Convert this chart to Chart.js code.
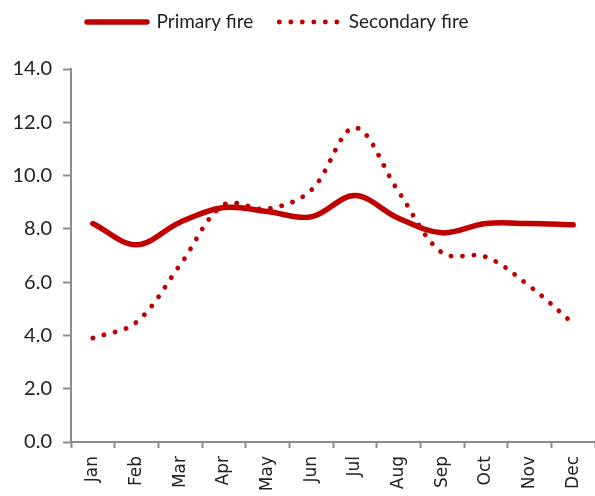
<!DOCTYPE html>
<html>
<head>
<meta charset="utf-8">
<title>Primary and secondary fires by month</title>
<script src="https://cdn.jsdelivr.net/npm/chart.js@4.4.1/dist/chart.umd.min.js"></script>
<style>
    html, body { margin: 0; padding: 0; background: #fff; overflow: hidden; }
    #wrap { position: relative; width: 595px; height: 496px; }
</style>
</head>
<body>
<div id="wrap"><canvas id="fires"></canvas></div>
<script>
// values
const months = ['Jan', 'Feb', 'Mar', 'Apr', 'May', 'Jun', 'Jul', 'Aug', 'Sep', 'Oct', 'Nov', 'Dec'];
const primaryFire = [8.2, 7.4, 8.25, 8.8, 8.65, 8.45, 9.25, 8.4, 7.85, 8.2, 8.2, 8.15];
const secondaryFire = [3.9, 4.5, 6.65, 8.9, 8.75, 9.45, 11.8, 9.4, 7.1, 6.95, 5.85, 4.45];
const yRange = [0, 14];
const yStep = 2;

const fireRed = '#c00000';
const axisGrey = '#8c8c8c';
const textColour = '#222';

/**
 * Moves the legend so its first item starts at startX and its text sits on textY
 */
const legendPlacer = {
    id: 'legendPlacer',
    afterLayout(chart, args, opts) {
        let lg = chart.legend;
        if (!lg || !lg.lineWidths) {
            return;
        }
        let pad = lg.options.labels.padding;
        let size = lg.options.labels.font.size;
        let start = (lg.left + pad + lg.right - lg.lineWidths[0]) / 2;
        let dx = opts.startX - start;
        let dy = opts.textY - (lg.top + pad + size / 2);
        lg.left += dx;
        lg.right += dx;
        lg.top += dy;
        lg.bottom += dy;
    }
};

function legendLabels(chart) {
    return chart.data.datasets.map((ds, i) => ({
        text: ds.label,
        fontColor: textColour,
        strokeStyle: ds.borderColor,
        fillStyle: ds.borderColor,
        lineWidth: ds.borderWidth,
        lineDash: ds.borderDash || [],
        lineCap: 'round',
        pointStyle: 'line',
        hidden: false,
        datasetIndex: i
    }));
}

new Chart(document.getElementById('fires'), {
    type: 'line',
    data: {
        labels: months,
        datasets: [
            {
                label: 'Primary fire',
                data: primaryFire,
                borderColor: fireRed,
                backgroundColor: fireRed,
                borderWidth: 5.5,
                borderCapStyle: 'round',
                tension: 0.35,
                pointRadius: 0,
                pointHoverRadius: 0
            },
            {
                label: 'Secondary fire',
                data: secondaryFire,
                borderColor: fireRed,
                backgroundColor: fireRed,
                borderWidth: 4.8,
                borderDash: [0.1, 11.4],
                borderCapStyle: 'round',
                tension: 0.35,
                pointRadius: 0,
                pointHoverRadius: 0
            }
        ]
    },
    options: {
        responsive: true,
        maintainAspectRatio: false,
        animation: false,
        layout: { padding: { top: 14, right: 0, bottom: 0, left: 0 } },
        plugins: {
            tooltip: { enabled: false },
            legendPlacer: { startX: 87, textY: 22 },
            legend: {
                position: 'top',
                labels: {
                    usePointStyle: true,
                    pointStyleWidth: 60,
                    padding: 26,
                    color: textColour,
                    font: { family: 'Lato', size: 19 },
                    generateLabels: legendLabels
                }
            }
        },
        scales: {
            x: {
                offset: true,
                grid: {
                    offset: true,
                    drawOnChartArea: false,
                    drawTicks: true,
                    tickLength: 6,
                    tickWidth: 2,
                    color: axisGrey
                },
                border: { color: axisGrey, width: 2 },
                ticks: {
                    minRotation: 90,
                    maxRotation: 90,
                    padding: 8,
                    color: textColour,
                    font: { family: 'DejaVu Sans', size: 17 }
                },
                afterFit(scale) {
                    scale.height = 54;
                    scale.paddingRight = 0;
                    scale.paddingLeft = 0;
                }
            },
            y: {
                min: yRange[0],
                max: yRange[1],
                grid: {
                    drawOnChartArea: false,
                    drawTicks: true,
                    tickLength: 8,
                    tickWidth: 2,
                    color: axisGrey
                },
                border: { color: axisGrey, width: 2 },
                ticks: {
                    stepSize: yStep,
                    padding: 11,
                    color: textColour,
                    font: { family: 'Lato', size: 20 },
                    callback: (v) => v.toFixed(1)
                },
                afterFit(scale) {
                    scale.width = 71;
                }
            }
        }
    },
    plugins: [legendPlacer]
});
</script>
</body>
</html>
